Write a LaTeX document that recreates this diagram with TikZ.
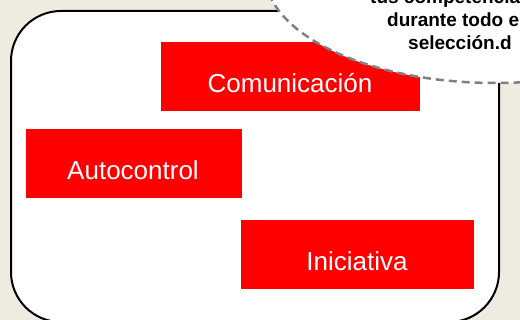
\documentclass[tikz,border=0pt]{standalone}
\usepackage{fontspec}
\setmainfont{Liberation Sans}
\usetikzlibrary{shapes.geometric}
\definecolor{bgc}{HTML}{EEECE1}
\definecolor{dashgray}{HTML}{808080}
\begin{document}
\begin{tikzpicture}[x=1pt,y=-1pt,
  redbox/.style={fill=red, draw=none, inner sep=0pt, anchor=north west},
  lbl/.style={text=white, font=\fontsize{26}{30}\selectfont, anchor=base, inner sep=0pt},
  ctext/.style={font=\bfseries\fontsize{19}{23}\selectfont, anchor=base west, inner sep=0pt}]
\useasboundingbox (0,0) rectangle (520,320);
\clip (0,0) rectangle (520,320);
\fill[bgc] (0,0) rectangle (520,320);
\draw[line width=2pt, fill=white, rounded corners=50pt] (11,11) rectangle (499,322);
\node[redbox, minimum width=259pt, minimum height=69pt] (comb) at (161,42) {};
\node[lbl] (com) at (290,93) {Comunicación};
\node[redbox, minimum width=216pt, minimum height=69pt] (autb) at (26,129) {};
\node[lbl] (aut) at (133,180) {Autocontrol};
\node[redbox, minimum width=233pt, minimum height=69pt] (inib) at (241,220) {};
\node[lbl] (ini) at (357,271) {Iniciativa};
\node[ellipse, draw=dashgray, fill=white, line width=2.5pt, dash pattern=on 8pt off 5pt,
  minimum width=460pt, minimum height=220pt, inner sep=0pt] (call) at (495,-27) {};
\node[ctext] (t1) at (370,4) {tus competencias};
\node[ctext] (t2) at (387,27) {durante todo el};
\node[ctext] (t3) at (408,50) {selección.d};
\end{tikzpicture}
\end{document}
